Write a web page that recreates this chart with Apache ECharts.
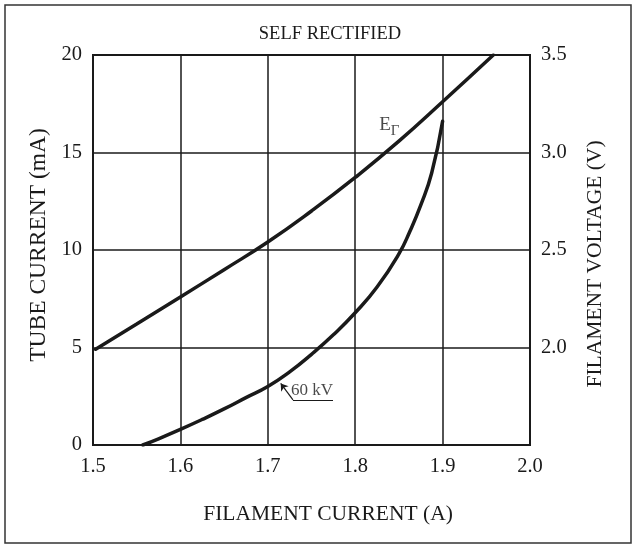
<!DOCTYPE html>
<html><head><meta charset="utf-8">
<script src="https://cdn.jsdelivr.net/npm/echarts@6/dist/echarts.min.js"></script>
<style>html,body{margin:0;padding:0;background:#fff}#c{width:637px;height:550px}</style>
</head><body><div id="c"></div>
<script>
// Filament voltage (V) vs filament current (A) — right axis
const filamentVoltageCurve = [[1.503,1.991],[1.55,2.12],[1.6,2.259],[1.65,2.399],[1.7,2.541],[1.75,2.70],[1.8,2.872],[1.85,3.058],[1.9,3.26],[1.958,3.5]];
// Tube current (mA) at 60 kV vs filament current (A) — left axis
const tubeCurrent60kV = [[1.557,0],[1.575,0.32],[1.6,0.8],[1.625,1.31],[1.65,1.85],[1.675,2.43],[1.7,3.0],[1.725,3.75],[1.75,4.65],[1.775,5.65],[1.8,6.78],[1.825,8.1],[1.85,9.8],[1.8625,10.95],[1.875,12.3],[1.8875,13.95],[1.9,16.6]];
// annotation anchors (data coordinates)
const labelEF = [1.839, 3.14];
const label60kV = [1.7506, 2.31];
const underline60kV = [[1.7746,2.31],[1.7288,2.31]];
const leader60kV = [[1.7288,2.31],[1.7148,3.16]];

const FONT = 'Liberation Serif';
const INK = '#1a1a1a';
const chart = echarts.init(document.getElementById('c'), null, {renderer:'canvas'});
chart.setOption({
  animation:false,
  backgroundColor:'#fff',
  title:{text:'SELF RECTIFIED', left:325, top:20, textAlign:'center',
    textStyle:{fontFamily:FONT, fontSize:18.5, fontWeight:'normal', color:INK}},
  graphic:[{type:'rect', z:-1, shape:{x:5,y:5,width:626,height:538}, style:{fill:null, stroke:'#333', lineWidth:1.5}}],
  grid:{left:93, right:107, top:55, bottom:105, show:true, borderColor:INK, borderWidth:2, backgroundColor:'transparent'},
  xAxis:{type:'value', min:1.5, max:2.0, interval:0.1,
    name:'FILAMENT CURRENT (A)', nameLocation:'middle', nameGap:58,
    nameTextStyle:{fontFamily:FONT, fontSize:21.5, color:INK, padding:[0,0,0,33]},
    axisLine:{show:true, lineStyle:{color:INK, width:2}}, axisTick:{show:false},
    axisLabel:{fontFamily:FONT, fontSize:20.5, color:INK, margin:11, formatter:v=>v.toFixed(1)},
    splitLine:{show:true, lineStyle:{color:INK, width:1.5}}},
  yAxis:[
    {type:'value', min:0, max:20, interval:5, position:'left',
     name:'TUBE CURRENT (mA)', nameLocation:'middle', nameGap:34, nameRotate:90,
     nameTextStyle:{fontFamily:FONT, fontSize:23.5, color:INK, padding:[0,0,0,10]},
     axisLine:{show:true, lineStyle:{color:INK, width:2}}, axisTick:{show:false},
     axisLabel:{fontFamily:FONT, fontSize:20.5, color:INK, margin:11},
     splitLine:{show:true, lineStyle:{color:INK, width:1.5}}},
    {type:'value', min:1.5, max:3.5, interval:0.5, position:'right',
     name:'FILAMENT VOLTAGE (V)', nameLocation:'middle', nameGap:54, nameRotate:90,
     nameTextStyle:{fontFamily:FONT, fontSize:21.5, color:INK, padding:[0,28,0,0]},
     axisLine:{show:true, lineStyle:{color:INK, width:2}}, axisTick:{show:false},
     axisLabel:{fontFamily:FONT, fontSize:20.5, color:INK, margin:11, showMinLabel:false, formatter:v=>v.toFixed(1)},
     splitLine:{show:false}}
  ],
  series:[
    {type:'line', name:'E_F', yAxisIndex:1, data:filamentVoltageCurve, smooth:0.5, showSymbol:false,
     lineStyle:{color:INK, width:3.5, cap:'round'}},
    {type:'line', name:'60 kV', yAxisIndex:0, data:tubeCurrent60kV, smooth:0.5, showSymbol:false,
     lineStyle:{color:INK, width:3.5, cap:'round'}},
    {type:'lines', coordinateSystem:'cartesian2d', xAxisIndex:0, yAxisIndex:0,
     symbol:['none','none'],
     lineStyle:{color:INK, width:1.2, opacity:1},
     data:[{coords:underline60kV}]},
    {type:'lines', coordinateSystem:'cartesian2d', xAxisIndex:0, yAxisIndex:0,
     symbol:['none','arrow'], symbolSize:7,
     lineStyle:{color:INK, width:1.2, opacity:1},
     data:[{coords:leader60kV}]},
    {type:'scatter', yAxisIndex:0, symbolSize:0, data:[label60kV], silent:true,
     label:{show:true, position:'top', distance:1, formatter:'60 kV', fontFamily:FONT, fontSize:17, color:INK}},
    {type:'scatter', yAxisIndex:1, symbolSize:0, data:[labelEF], silent:true,
     label:{show:true, position:'inside', formatter:'{e|E}{s|Γ}',
       rich:{e:{fontFamily:FONT, fontSize:19, color:INK},
             s:{fontFamily:FONT, fontSize:15, color:INK, padding:[12,0,0,0]}}}}
  ]
});
</script></body></html>
